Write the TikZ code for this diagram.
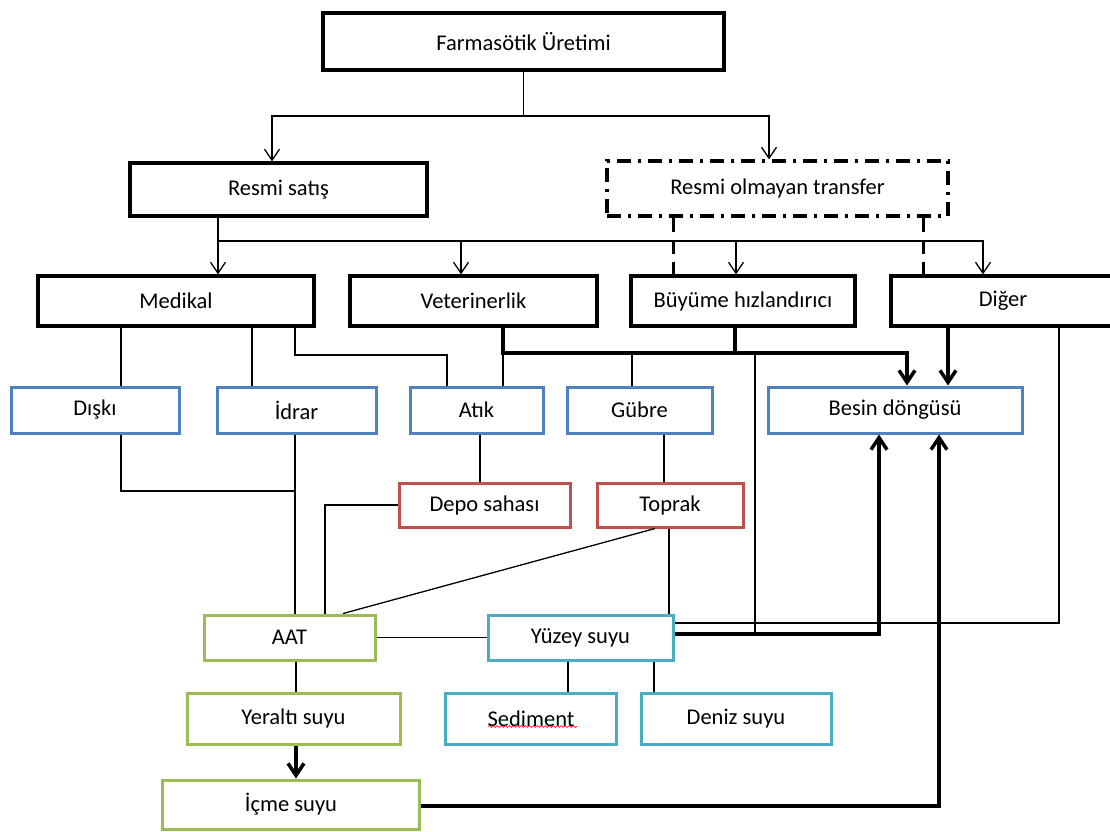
\documentclass[tikz,border=0pt]{standalone}
\usepackage{fontspec}
\setmainfont{Carlito}
\usetikzlibrary{arrows.meta, decorations.pathmorphing}
\definecolor{boxblue}{RGB}{79,129,189}
\definecolor{boxred}{RGB}{192,80,77}
\definecolor{boxgreen}{RGB}{155,187,89}
\definecolor{boxcyan}{RGB}{75,172,198}

\begin{document}
\begin{tikzpicture}[x = 1pt, y = -1pt]
\tikzstyle{BoxStyle}=[shape = rectangle,
                      draw,
                      line width = 3.3pt,
                      inner sep = 0pt,
                      font = \fontsize{22.5}{26}\selectfont]
\tikzstyle{BlackBox}=[BoxStyle, draw = black]
\tikzstyle{DashBox}=[BoxStyle, dash pattern = on 14pt off 7pt on 3pt off 7pt]
\tikzstyle{BlueBox}=[BoxStyle, draw = boxblue, line width = 3pt]
\tikzstyle{RedBox}=[BoxStyle, draw = boxred, line width = 3pt]
\tikzstyle{GreenBox}=[BoxStyle, draw = boxgreen, line width = 3pt]
\tikzstyle{CyanBox}=[BoxStyle, draw = boxcyan, line width = 3pt]
\tikzstyle{Link}=[line width = 1.3pt]
\tikzstyle{Heavy}=[line width = 3.5pt]
\tikzstyle{DashLine}=[line width = 3pt, dash pattern = on 14pt off 8pt]
\tikzstyle{post}=[-{Straight Barb[length = 11pt, width = 15pt]}]
\tikzstyle{thickpost}=[-{Straight Barb[length = 12pt, width = 16pt]}]
\useasboundingbox (0,0) rectangle (1110,831);
% kutular
\node[BlackBox, minimum width = 401pt, minimum height = 57pt] (farma) at (523.5, 41.5) {Farmasötik Üretimi};
\node[BlackBox, minimum width = 297pt, minimum height = 53pt] (resmi) at (278.5, 189.5) {Resmi satış};
\node[DashBox, minimum width = 341pt, minimum height = 55pt] (gayri) at (777.5, 188.5) {Resmi olmayan transfer};
\node[BlackBox, minimum width = 276pt, minimum height = 50pt] (medikal) at (176, 301) {Medikal};
\node[BlackBox, minimum width = 247pt, minimum height = 50pt] (veteriner) at (473.5, 301) {Veterinerlik};
\node[BlackBox, minimum width = 224pt, minimum height = 50pt] (buyume) at (743, 301) {Büyüme hızlandırıcı};
\node[BlackBox, minimum width = 224pt, minimum height = 50pt] (diger) at (1003, 301) {Diğer};
\node[BlueBox, minimum width = 168pt, minimum height = 46pt] (diski) at (95, 410) {Dışkı};
\node[BlueBox, minimum width = 159pt, minimum height = 46pt] (idrar) at (296.5, 410) {İdrar};
\node[BlueBox, minimum width = 133pt, minimum height = 46pt] (atik) at (476.5, 410) {Atık};
\node[BlueBox, minimum width = 145pt, minimum height = 46pt] (gubre) at (639.5, 410) {Gübre};
\node[BlueBox, minimum width = 254pt, minimum height = 46pt] (besin) at (895, 410) {Besin döngüsü};
\node[RedBox, minimum width = 171pt, minimum height = 44pt] (depo) at (484.5, 505) {Depo sahası};
\node[RedBox, minimum width = 146pt, minimum height = 44pt] (toprak) at (670, 505) {Toprak};
\node[GreenBox, minimum width = 171pt, minimum height = 45pt] (aat) at (289.5, 637.5) {AAT};
\node[CyanBox, minimum width = 185pt, minimum height = 45pt] (yuzey) at (580.5, 637.5) {Yüzey suyu};
\node[GreenBox, minimum width = 213pt, minimum height = 51pt] (yeralti) at (293.5, 718.5) {Yeraltı suyu};
\node[CyanBox, minimum width = 171pt, minimum height = 51pt] (sediment) at (531, 718.5) {Sediment};
\node[CyanBox, minimum width = 190pt, minimum height = 51pt] (deniz) at (736, 718.5) {Deniz suyu};
\node[GreenBox, minimum width = 257pt, minimum height = 49pt] (icme) at (291, 804.5) {İçme suyu};
\draw[red, line width = 0.6pt, decorate, decoration = {snake, amplitude = 1pt, segment length = 4pt}]
  ([xshift = -43pt, yshift = -8pt]sediment.center) -- ([xshift = 46pt, yshift = -8pt]sediment.center);
% ilk dallar
\coordinate (t1) at (272, 116);
\coordinate (t2) at (769, 116);
\draw[Link] (farma.south) -- (farma.south |- t1);
\draw[Link, post] (t2) -- (t1) -- (t1 |- resmi.north);
\draw[Link, post] (t1) -- (t2) -- (t2 |- gayri.north);
% resmi satis
\coordinate (m1) at (218, 241);
\coordinate (m2) at (461, 241);
\coordinate (m3) at (736, 241);
\coordinate (m4) at (983, 241);
\draw[Link, post] (m1 |- resmi.south) -- (m1 |- medikal.north);
\draw[Link, post] (m1) -- (m4) -- (m4 |- diger.north);
\draw[Link, post] (m2) -- (m2 |- veteriner.north);
\draw[Link, post] (m3) -- (m3 |- buyume.north);
% resmi olmayan
\coordinate (g1) at (673, 0);
\coordinate (g2) at (923, 0);
\draw[DashLine] (g1 |- gayri.south) -- (g1 |- buyume.north);
\draw[DashLine] (g2 |- gayri.south) -- (g2 |- diger.north);
% medikal
\coordinate (k1) at (121, 491);
\coordinate (k2) at (252, 0);
\coordinate (k3) at (295, 355);
\coordinate (k4) at (447, 355);
\draw[Link] (k1 |- medikal.south) -- (k1 |- diski.north);
\draw[Link] (k2 |- medikal.south) -- (k2 |- idrar.north);
\draw[Link] (k3 |- medikal.south) -- (k3) -- (k4) -- (k4 |- atik.north);
% veterinerlik ve buyume
\coordinate (v1) at (503, 353);
\coordinate (v2) at (735, 353);
\coordinate (v3) at (907, 353);
\coordinate (v4) at (632, 353);
\coordinate (v5) at (755, 353);
\coordinate (v6) at (755, 634);
\draw[Link] (v1) -- (v1 |- atik.north);
\draw[Link] (v4) -- (v4 |- gubre.north);
\draw[Link] (v5) -- (v6);
\draw[Heavy, thickpost] (v1 |- veteriner.south) -- (v1) -- (v3) -- (v3 |- besin.north);
\draw[Heavy] (v2 |- buyume.south) -- (v2);
% diger
\coordinate (e1) at (948, 0);
\coordinate (e2) at (1059, 623);
\draw[Heavy, thickpost] (e1 |- diger.south) -- (e1 |- besin.north);
\draw[Link] (e2 |- diger.south) -- (e2) -- (e2 -| yuzey.east);
% AAT girisleri
\coordinate (a1) at (295, 491);
\coordinate (a2) at (480, 0);
\coordinate (a3) at (325, 0);
\draw[Link] (k1 |- diski.south) -- (k1) -- (a1);
\draw[Link] (a1 |- idrar.south) -- (a1 |- aat.north);
\draw[Link] (a2 |- atik.south) -- (a2 |- depo.north);
\draw[Link] (depo.west) -| (a3 |- aat.north);
% gubre ve toprak
\coordinate (b1) at (664, 0);
\coordinate (b2) at (669, 0);
\coordinate (b3) at (655, 0);
\coordinate (b4) at (343, 0);
\draw[Link] (b1 |- gubre.south) -- (b1 |- toprak.north);
\draw[Link] (b2 |- toprak.south) -- (b2 |- yuzey.north);
\draw[Link] (b3 |- toprak.south) -- (b4 |- aat.north);
% sular
\coordinate (c1) at (296, 0);
\coordinate (c2) at (568, 0);
\coordinate (c3) at (654, 0);
\coordinate (y1) at (879, 634);
\coordinate (i1) at (939, 806);
\draw[Link] (aat.east) -- (yuzey.west);
\draw[Link] (c1 |- aat.south) -- (c1 |- yeralti.north);
\draw[Heavy, thickpost] (c1 |- yeralti.south) -- (c1 |- icme.north);
\draw[Link] (c2 |- yuzey.south) -- (c2 |- sediment.north);
\draw[Link] (c3 |- yuzey.south) -- (c3 |- deniz.north);
\draw[Heavy, thickpost] (y1 -| yuzey.east) -- (y1) -- (y1 |- besin.south);
\draw[Heavy, thickpost] (i1 -| icme.east) -- (i1) -- (i1 |- besin.south);
\end{tikzpicture}
\end{document}
